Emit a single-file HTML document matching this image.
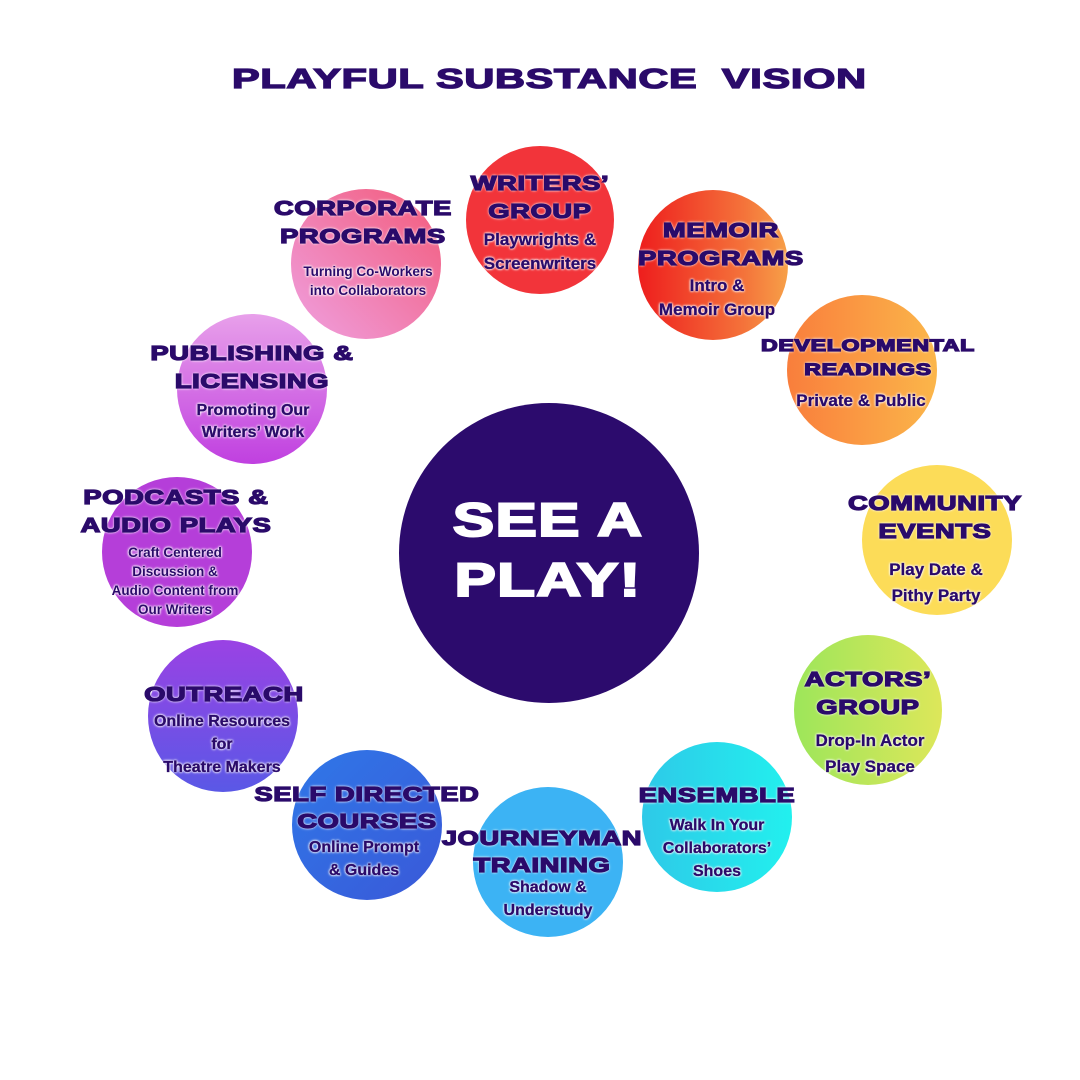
<!DOCTYPE html>
<html><head><style>
body{margin:0;width:1080px;height:1080px;background:#fff;position:relative;overflow:hidden;font-family:"Liberation Sans",sans-serif;color:#2a0a6a}
.c{position:absolute;border-radius:50%}
.t{position:absolute;width:400px;text-align:center;white-space:nowrap;text-shadow:0 0 2px #fff,0 0 2px #fff,0 0 3px #fff}
.h{font-weight:900;font-size:20px;letter-spacing:0.5px;transform:scaleX(1.36);line-height:28px;-webkit-text-stroke:1.3px #2a0a6a}
.s{font-weight:bold;font-size:17px;line-height:24px;-webkit-text-stroke:0.3px #2a0a6a}
.xs{font-weight:bold;font-size:13.5px;line-height:19px}
</style></head><body>
<div class="t h" style="left:328px;top:62px;font-size:28px;line-height:34px;transform:scaleX(1.48)">PLAYFUL SUBSTANCE&nbsp; VISION</div>

<div class="c" style="left:466px;top:146px;width:148px;height:148px;background:#f2343a"></div>
<div class="c" style="left:638px;top:190px;width:150px;height:150px;background:linear-gradient(90deg,#ee1d1d,#f4723a 70%,#f7a048)"></div>
<div class="c" style="left:787px;top:295px;width:150px;height:150px;background:linear-gradient(90deg,#f97e3c,#fbb64a)"></div>
<div class="c" style="left:862px;top:465px;width:150px;height:150px;background:#fcdc58"></div>
<div class="c" style="left:794px;top:635px;width:148px;height:150px;background:linear-gradient(90deg,#9de65a,#dde75a)"></div>
<div class="c" style="left:642px;top:742px;width:150px;height:150px;background:linear-gradient(90deg,#2ec9e8,#22f0ee)"></div>
<div class="c" style="left:473px;top:787px;width:150px;height:150px;background:#3cb3f4"></div>
<div class="c" style="left:292px;top:750px;width:150px;height:150px;background:linear-gradient(135deg,#2f78e8,#3a58d8)"></div>
<div class="c" style="left:148px;top:640px;width:150px;height:152px;background:linear-gradient(180deg,#9a42e4,#5a58e6)"></div>
<div class="c" style="left:102px;top:477px;width:150px;height:150px;background:#b53ed9"></div>
<div class="c" style="left:177px;top:314px;width:150px;height:150px;background:linear-gradient(180deg,#e8a0ea,#c040e0)"></div>
<div class="c" style="left:291px;top:189px;width:150px;height:150px;background:linear-gradient(45deg,#f0a0e0,#f25a7a)"></div>
<div class="c" style="left:399px;top:403px;width:300px;height:300px;background:#2c0b6d"></div>

<div class="t" style="left:348px;top:490px;color:#fff;font-weight:900;font-size:47px;line-height:60px;letter-spacing:1px;transform:scaleX(1.32);text-shadow:none;-webkit-text-stroke:2px #fff">SEE A<br>PLAY!</div>

<div class="t h" style="left:340px;top:170px">WRITERS’<br>GROUP</div>
<div class="t s" style="left:340px;top:228px">Playwrights &amp;<br>Screenwriters</div>

<div class="t h" style="left:521px;top:217px">MEMOIR<br>PROGRAMS</div>
<div class="t s" style="left:517px;top:274px">Intro &amp;<br>Memoir Group</div>

<div class="t h" style="left:668px;top:334px;font-size:17px;line-height:24px">DEVELOPMENTAL<br>READINGS</div>
<div class="t s" style="left:661px;top:389px">Private &amp; Public</div>

<div class="t h" style="left:735px;top:490px">COMMUNITY<br>EVENTS</div>
<div class="t s" style="left:736px;top:557px;line-height:26px">Play Date &amp;<br>Pithy Party</div>

<div class="t h" style="left:668px;top:666px">ACTORS’<br>GROUP</div>
<div class="t s" style="left:670px;top:728px;line-height:26px">Drop-In Actor<br>Play Space</div>

<div class="t h" style="left:517px;top:782px">ENSEMBLE</div>
<div class="t s" style="left:517px;top:814px;font-size:16px;line-height:23px">Walk In Your<br>Collaborators’<br>Shoes</div>

<div class="t h" style="left:342px;top:826px;line-height:27px">JOURNEYMAN<br>TRAINING</div>
<div class="t s" style="left:348px;top:876px;font-size:16px;line-height:23px">Shadow &amp;<br>Understudy</div>

<div class="t h" style="left:167px;top:782px;line-height:27px">SELF DIRECTED<br>COURSES</div>
<div class="t s" style="left:164px;top:836px;font-size:16px;line-height:23px">Online Prompt<br>&amp; Guides</div>

<div class="t h" style="left:24px;top:681px">OUTREACH</div>
<div class="t s" style="left:22px;top:710px;font-size:16px;line-height:23px">Online Resources<br>for<br>Theatre Makers</div>

<div class="t h" style="left:-24px;top:484px">PODCASTS &amp;<br>AUDIO PLAYS</div>
<div class="t xs" style="left:-25px;top:543px">Craft Centered<br>Discussion &amp;<br>Audio Content from<br>Our Writers</div>

<div class="t h" style="left:52px;top:340px">PUBLISHING &amp;<br>LICENSING</div>
<div class="t s" style="left:53px;top:400px;font-size:16px;line-height:22px">Promoting Our<br>Writers’ Work</div>

<div class="t h" style="left:163px;top:195px">CORPORATE<br>PROGRAMS</div>
<div class="t xs" style="left:168px;top:262px">Turning Co-Workers<br>into Collaborators</div>
</body></html>
